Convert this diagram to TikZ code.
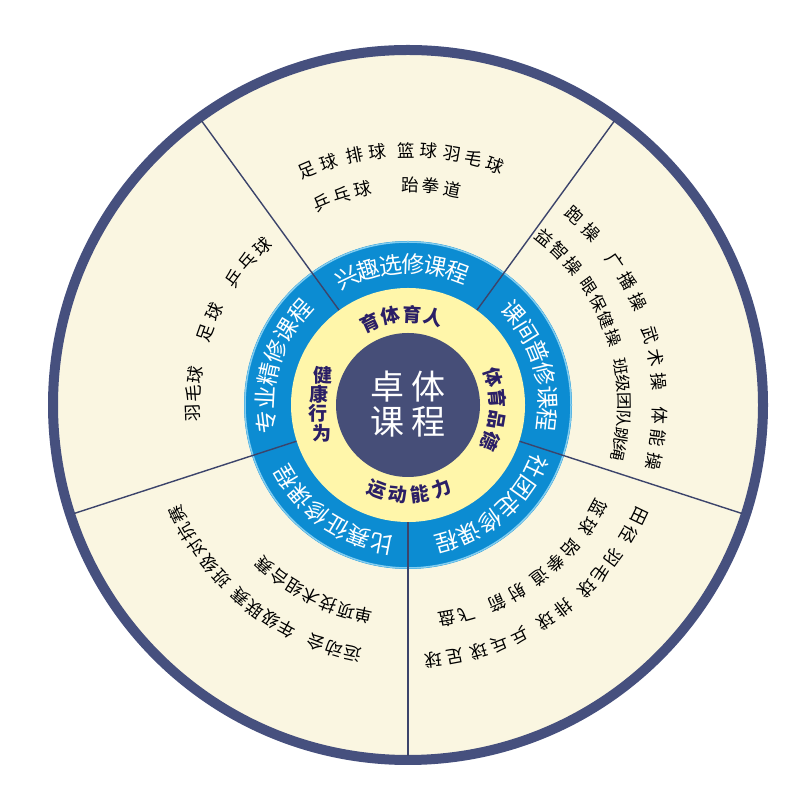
\documentclass[tikz,border=0pt]{standalone}
\usepackage{fontspec}
\setmainfont{Noto Sans CJK SC}
\usepackage{tikz}

\definecolor{rim}{RGB}{70,80,126}
\definecolor{cream}{RGB}{250,246,225}
\definecolor{ringblue}{RGB}{12,140,210}
\definecolor{ringedge}{RGB}{130,205,240}
\definecolor{pale}{RGB}{255,246,170}
\definecolor{slate}{RGB}{70,78,120}
\definecolor{ink}{RGB}{43,31,102}

% characters set one by one along an arc, read clockwise
\newcommand{\arcword}[6][]{%
  \foreach \ch [count=\i] in {#6}
    \node[#1, rotate={#4-(\i-1)*(#5)-90}] (#2-\i) at ({#4-(\i-1)*(#5)}:#3) {\ch};}

\begin{document}
\begin{tikzpicture}[x=1pt, y=1pt,
    word/.style={font=\fontsize{17.5}{17.5}\selectfont, inner sep=0pt},
    ring/.style={font=\fontsize{23}{23}\selectfont, text=white, inner sep=0pt},
    core/.style={font=\fontsize{19}{19}\selectfont\bfseries, text=ink, inner sep=0pt},
    flipped/.style={rotate=180},
    divider/.style={draw=rim!85!black, line width=1.4pt}]
    \useasboundingbox (0,0) rectangle (800,808);
    \begin{scope}[shift={(408,403)}]
    % discs, back to front
    \draw[rim, line width=10pt, fill=cream] (0,0) circle (355);
    \fill[ringblue] (0,0) circle (164);
    \draw[ringedge, line width=1.5pt] (0,0) circle (163);
    \foreach \a in {-90,-18,54,126,198}
        \draw[divider] (\a:117) -- (\a:351);
    \fill[pale] (0,0) circle (117);
    \fill[slate] (0,0) circle (72);

    % centre
    \node[font=\fontsize{34}{35}\selectfont, text=white, align=center] (title) at (0,1) {卓\hspace{7pt}体\\课\hspace{7pt}程};

    % inner ring
    \arcword[core]{nurture}{91}{114.9}{13.8}{育,体,育,人}
    \arcword[core]{ethic}{90}{18.2}{14}{体,育,品,德}
    \arcword[core, flipped]{skill}{90}{-110.5}{-14.1}{运,动,能,力}
    \foreach \ch/\a [count=\i] in {健/160.6, 康/173, 行/185.5, 为/198}
        \node[core] (health-\i) at (\a:90) {\ch};

    % blue ring
    \arcword[ring]{interest}{141}{115.6}{9.2}{兴,趣,选,修,课,程}
    \arcword[ring]{daily}{140}{41.2}{9.5}{课,间,普,修,课,程}
    \arcword[ring]{club}{142}{-25.7}{9.7}{社,团,走,修,课,程}
    \arcword[ring]{match}{141}{-100.9}{9.7}{比,赛,征,修,课,程}
    \arcword[ring]{major}{143}{186.8}{9.6}{专,业,精,修,课,程}

    % top sector
    \arcword[word]{top-a}{255}{113.3}{5.1}{足,球}
    \arcword[word]{top-b}{255}{102}{5.1}{排,球}
    \arcword[word]{top-c}{255}{90.5}{5.1}{篮,球}
    \arcword[word]{top-d}{255}{80}{5}{羽,毛,球}
    \arcword[word]{top-e}{220}{113}{5.6}{乒,乓,球}
    \arcword[word]{top-f}{220}{89.5}{5.6}{跆,拳,道}

    % right sector
    \arcword[word]{right-a}{252}{48.7}{5.4}{跑,操}
    \arcword[word]{right-b}{252}{34.7}{5.3}{广,播,操}
    \arcword[word]{right-c}{252}{16}{5.3}{武,术,操}
    \arcword[word]{right-d}{252}{-2.3}{5.3}{体,能,操}
    \arcword[word]{right-e}{216}{50.8}{5.4}{益,智,操}
    \arcword[word, xscale=0.9]{right-f}{216}{33.2}{5}{眼,保,健,操}
    \arcword[word, xscale=0.9]{right-g}{216}{10.2}{4.6}{班,级,团,队,跳,绳}

    % lower right sector
    \arcword[word]{low-a}{256}{-25.6}{4.8}{田,径}
    \arcword[word]{low-b}{256}{-36.6}{4.6}{羽,毛,球}
    \arcword[word]{low-c}{256}{-52.6}{4.8}{排,球}
    \arcword[word]{low-d}{256}{-64.2}{4.8}{乒,乓,球}
    \arcword[word]{low-e}{256}{-79.4}{4.8}{足,球}
    \arcword[word]{low-f}{217}{-28.6}{5.5}{篮,球}
    \arcword[word]{low-g}{217}{-41.4}{5.6}{跆,拳,道}
    \arcword[word]{low-h}{217}{-59.9}{5.9}{射,箭}
    \arcword[word]{low-i}{217}{-74.3}{5.4}{飞,盘}

    % lower left sector
    \arcword[word]{game-a}{255}{-102.5}{4.3}{运,动,会}
    \arcword[word]{game-b}{255}{-118.5}{4.2}{年,级,联,赛}
    \arcword[word]{game-c}{255}{-137}{4.4}{班,级,对,抗,赛}
    \arcword[word]{game-d}{215}{-101.8}{5}{单,项,技,术,组,合,赛}

    % left sector
    \arcword[word]{left-a}{215}{182}{5}{羽,毛,球}
    \arcword[word]{left-b}{215}{160.4}{6}{足,球}
    \arcword[word]{left-c}{215}{144}{5.7}{乒,乓,球}
    \end{scope}
\end{tikzpicture}
\end{document}
